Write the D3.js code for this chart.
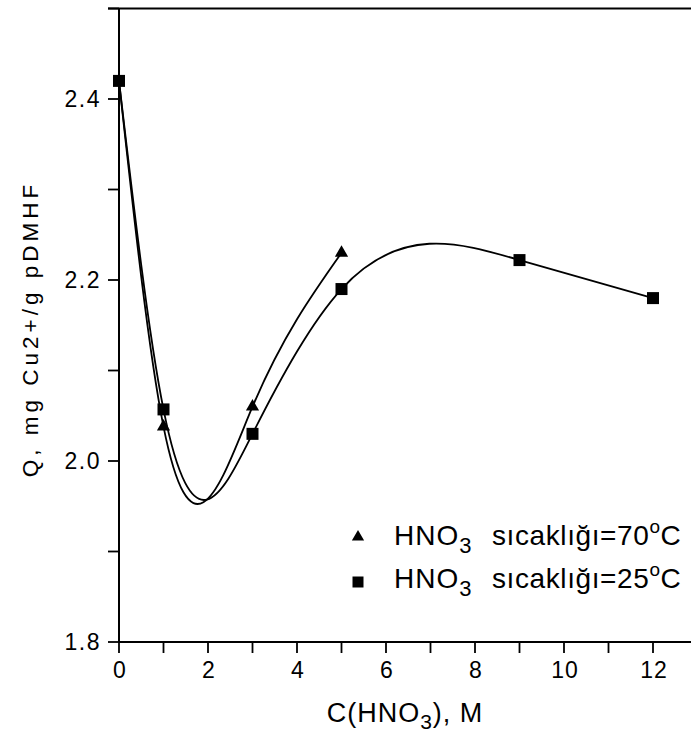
<!DOCTYPE html>
<html>
<head>
<meta charset="utf-8">
<script src="https://cdn.jsdelivr.net/npm/d3@7"></script>
<style>
  html, body { margin: 0; padding: 0; background: #fff; }
  svg { display: block; }
  text { font-family: "Liberation Sans", Arial, Helvetica, sans-serif; fill: #000; }
</style>
</head>
<body>
<svg id="chart" width="691" height="732"></svg>
<script>
// Nitric acid concentration (M) and Cu2+ uptake Q (mg/g)
const conc25 = [0, 1, 3, 5, 9, 12];
const q25 = [2.42, 2.057, 2.030, 2.190, 2.222, 2.180];
const conc70 = [0, 1, 3, 5];
const q70 = [2.42, 2.038, 2.060, 2.230];

const xTicksMajor = [0, 2, 4, 6, 8, 10, 12];
const xTicksMinor = [1, 3, 5, 7, 9, 11, 13];
const yTicksMajor = [1.8, 2.0, 2.2, 2.4];
const yTicksMinor = [1.9, 2.1, 2.3, 2.5];

const svg = d3.select("#chart");
const x = d3.scaleLinear().domain([0, 13]).range([119, 697.5]);
const y = d3.scaleLinear().domain([1.8, 2.5]).range([642, 8.5]);

// Natural cubic spline with y as a function of x, emitted as cubic Béziers
function curveNaturalX(context) {
  return {
    lineStart() { this._x = []; this._y = []; },
    point(px, py) { this._x.push(+px); this._y.push(+py); },
    lineEnd() {
      const X = this._x, Y = this._y, n = X.length - 1;
      if (n < 1) return;
      context.moveTo(X[0], Y[0]);
      if (n === 1) { context.lineTo(X[1], Y[1]); return; }
      const h = [], d = [];
      for (let i = 0; i < n; i++) { h[i] = X[i + 1] - X[i]; d[i] = (Y[i + 1] - Y[i]) / h[i]; }
      // tridiagonal system for second derivatives M1..M(n-1)
      const a = [], b = [], c = [], r = [];
      for (let i = 1; i < n; i++) {
        a[i] = h[i - 1]; b[i] = 2 * (h[i - 1] + h[i]); c[i] = h[i]; r[i] = 6 * (d[i] - d[i - 1]);
      }
      for (let i = 2; i < n; i++) {
        const m = a[i] / b[i - 1];
        b[i] -= m * c[i - 1]; r[i] -= m * r[i - 1];
      }
      const M = new Array(n + 1).fill(0);
      for (let i = n - 1; i >= 1; i--) M[i] = (r[i] - (i < n - 1 ? c[i] * M[i + 1] : 0)) / b[i];
      const s = [];
      for (let i = 0; i < n; i++) s[i] = d[i] - h[i] * (2 * M[i] + M[i + 1]) / 6;
      s[n] = d[n - 1] + h[n - 1] * (M[n - 1] + 2 * M[n]) / 6;
      for (let i = 0; i < n; i++) {
        const k = h[i] / 3;
        context.bezierCurveTo(X[i] + k, Y[i] + k * s[i], X[i + 1] - k, Y[i + 1] - k * s[i + 1], X[i + 1], Y[i + 1]);
      }
    },
    areaStart() {}, areaEnd() {}
  };
}

const line = d3.line().x(d => x(d[0])).y(d => y(d[1])).curve(curveNaturalX);
const pts25 = conc25.map((c, i) => [c, q25[i]]);
const pts70 = conc70.map((c, i) => [c, q70[i]]);

// frame: top border
svg.append("line").attr("x1", 108).attr("x2", 691).attr("y1", y(2.5)).attr("y2", y(2.5))
  .attr("stroke", "#000").attr("stroke-width", 1.8);

// x axis
const xAxisG = svg.append("g").attr("transform", `translate(0,${y(1.8)})`);
xAxisG.append("line").attr("x1", x(0)).attr("x2", 691).attr("stroke", "#000").attr("stroke-width", 2);
xAxisG.selectAll(".xt").data(xTicksMajor.concat(xTicksMinor)).join("line")
  .attr("x1", d => x(d)).attr("x2", d => x(d)).attr("y1", 0).attr("y2", 11)
  .attr("stroke", "#000").attr("stroke-width", 1.8);
xAxisG.selectAll(".xl").data(xTicksMajor).join("text")
  .attr("x", d => x(d) + 1).attr("y", 36).attr("text-anchor", "middle")
  .style("font-size", "23px").style("letter-spacing", "1px")
  .text(d => d);

// y axis
const yAxisG = svg.append("g").attr("transform", `translate(${x(0)},0)`);
yAxisG.append("line").attr("y1", y(1.8)).attr("y2", y(2.5)).attr("stroke", "#000").attr("stroke-width", 2);
yAxisG.selectAll(".yt").data(yTicksMajor.concat(yTicksMinor)).join("line")
  .attr("x1", -11).attr("x2", 0).attr("y1", d => y(d)).attr("y2", d => y(d))
  .attr("stroke", "#000").attr("stroke-width", 1.8);
yAxisG.selectAll(".yl").data(yTicksMajor).join("text")
  .attr("x", -18).attr("y", d => y(d) + 8).attr("text-anchor", "end")
  .style("font-size", "23px").style("letter-spacing", "1.5px")
  .text(d => d3.format(".1f")(d));

// axis titles
const xt = svg.append("text").attr("x", 405).attr("y", 722).attr("text-anchor", "middle")
  .style("font-size", "27px").style("letter-spacing", "1px");
xt.append("tspan").text("C(HNO");
xt.append("tspan").attr("dy", 7).style("font-size", "21px").text("3");
xt.append("tspan").attr("dy", -7).text("), M");

svg.append("text").attr("transform", "translate(38,329) rotate(-90)").attr("text-anchor", "middle")
  .style("font-size", "22.5px").style("letter-spacing", "4px")
  .text("Q, mg Cu2+/g pDMHF");

// curves
svg.append("path").attr("d", line(pts70)).attr("fill", "none").attr("stroke", "#000").attr("stroke-width", 1.8);
svg.append("path").attr("d", line(pts25)).attr("fill", "none").attr("stroke", "#000").attr("stroke-width", 1.8);

// markers
const sq = d3.symbol().type(d3.symbolSquare).size(144);
const tri = d3.symbol().type(d3.symbolTriangle).size(75);
svg.selectAll(".m70").data(pts70.slice(1)).join("path")
  .attr("d", tri).attr("transform", d => `translate(${x(d[0])},${y(d[1])})`).attr("fill", "#000");
svg.selectAll(".m25").data(pts25).join("path")
  .attr("d", sq).attr("transform", d => `translate(${x(d[0])},${y(d[1])})`).attr("fill", "#000");

// legend
const legendRows = [
  { sym: d3.symbol().type(d3.symbolTriangle).size(65), temp: "70", yb: 545, dy: 8 },
  { sym: d3.symbol().type(d3.symbolSquare).size(121), temp: "25", yb: 588, dy: 6 }
];
legendRows.forEach(r => {
  svg.append("path").attr("d", r.sym())
    .attr("transform", `translate(358,${r.yb - r.dy})`).attr("fill", "#000");
  const t1 = svg.append("text").attr("x", 394).attr("y", r.yb)
    .style("font-size", "28px").style("letter-spacing", "1px");
  t1.append("tspan").text("HNO");
  t1.append("tspan").attr("dy", 8).style("font-size", "22px").text("3");
  const t2 = svg.append("text").attr("x", 492).attr("y", r.yb)
    .style("font-size", "28px").style("letter-spacing", "0.6px");
  t2.append("tspan").text("sıcaklığı=" + r.temp);
  t2.append("tspan").attr("dy", -12).style("font-size", "19px").text("o");
  t2.append("tspan").attr("dy", 12).text("C");
});
</script>
</body>
</html>
